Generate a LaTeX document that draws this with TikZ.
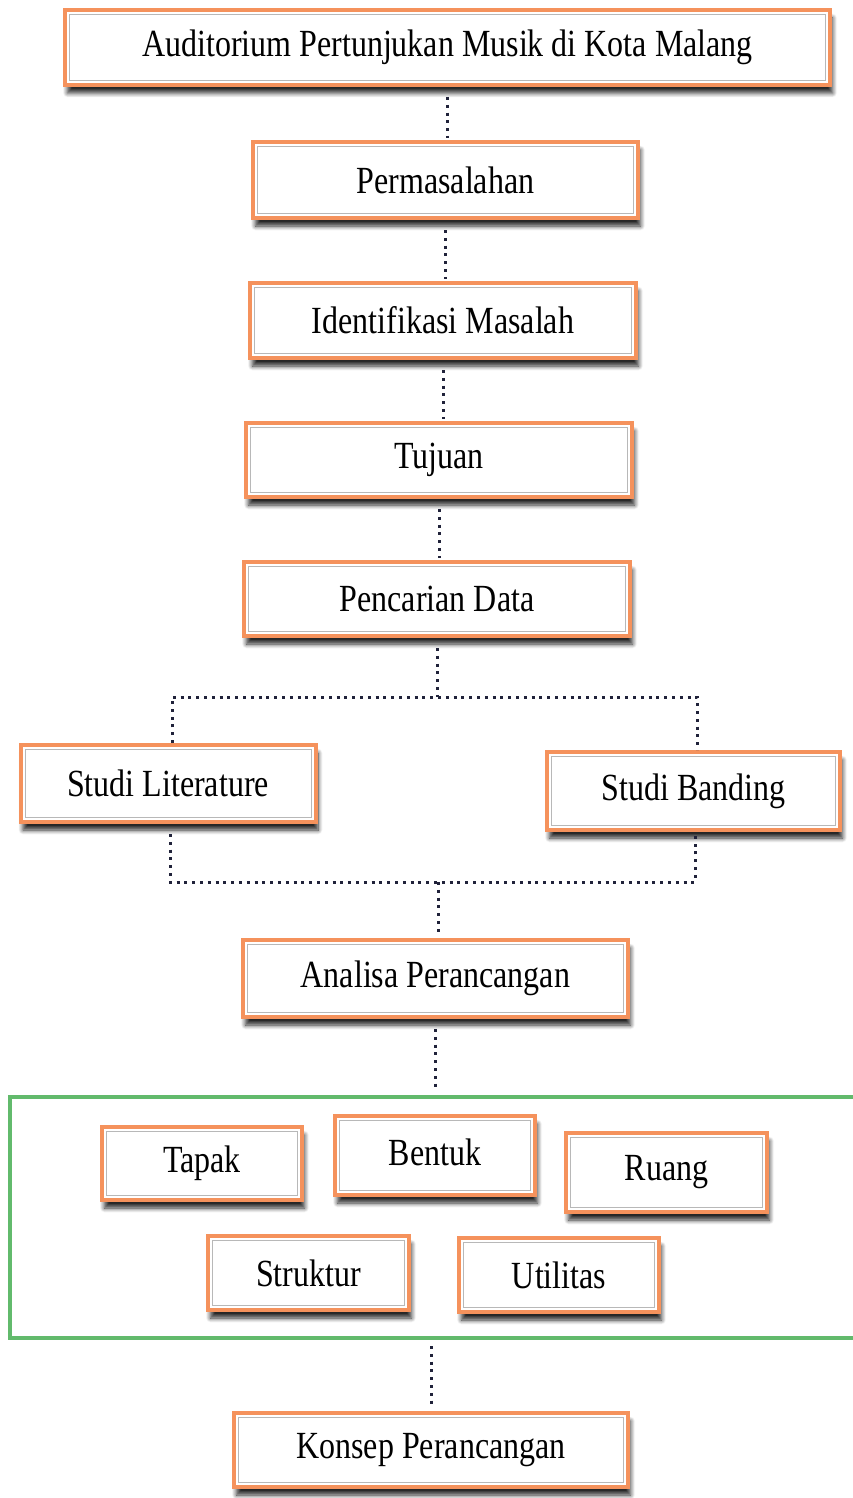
\documentclass[tikz,border=0pt]{standalone}
\usepackage{fontspec}
\setmainfont{Liberation Serif}
\usetikzlibrary{shadows.blur}
\definecolor{boxorange}{RGB}{245,146,92}
\definecolor{framegreen}{RGB}{98,186,108}
\definecolor{dotink}{RGB}{32,34,58}
\newcommand{\tallbox}[1]{\scalebox{1}[1.2]{#1}}
\tikzset{
  box/.style={draw=boxorange, line width=4pt, fill=white, inner sep=0pt,
    font=\fontsize{32}{38}\selectfont,
    blur shadow={shadow xshift=2.5pt, shadow yshift=-8pt, shadow blur steps=8,
      shadow blur radius=4.5pt, shadow opacity=85},
    path picture={\draw[black!28, line width=1pt]
      ([shift={(4.5pt,-4.5pt)}]path picture bounding box.north west) rectangle
      ([shift={(-4.5pt,4.5pt)}]path picture bounding box.south east);}},
  conn/.style={draw=dotink, line width=3pt, dash pattern=on 3pt off 4.8pt},
  group/.style={draw=framegreen, line width=4pt, fill=none, inner sep=0pt}
}
\begin{document}
\begin{tikzpicture}[x=1pt,y=-1pt]
\useasboundingbox (0,0) rectangle (852,1498);

% green frame around the design aspects
\node[group, minimum width=860pt, minimum height=241pt] (grp) at (440,1217.5) {};

% main chain
\node[box, minimum width=765pt, minimum height=75pt] (aud) at (447.5,47.5) {\tallbox{Auditorium Pertunjukan Musik di Kota Malang}};
\node[box, minimum width=385pt, minimum height=76pt] (perm) at (445.5,180) {\tallbox{Permasalahan}};
\node[box, minimum width=386pt, minimum height=75pt] (ident) at (443,320.5) {\tallbox{Identifikasi Masalah}};
\node[box, minimum width=386pt, minimum height=74pt] (tuj) at (439,460) {\tallbox{Tujuan}};
\node[box, minimum width=386pt, minimum height=74pt] (pen) at (437,599) {\tallbox{Pencarian Data}};
\node[box, minimum width=295pt, minimum height=77pt] (lit) at (168,783.5) {\tallbox{Studi Literature}};
\node[box, minimum width=293pt, minimum height=78pt] (band) at (693.5,791) {\tallbox{Studi Banding}};
\node[box, minimum width=385pt, minimum height=77pt] (ana) at (435.5,978.5) {\tallbox{Analisa Perancangan}};

% design aspects
\node[box, minimum width=200pt, minimum height=73pt] (tapak) at (202,1163.5) {\tallbox{Tapak}};
\node[box, minimum width=200pt, minimum height=79pt] (bentuk) at (435,1155.5) {\raisebox{6pt}{\tallbox{Bentuk}}};
\node[box, minimum width=201pt, minimum height=79pt] (ruang) at (666.5,1172.5) {\tallbox{Ruang}};
\node[box, minimum width=201pt, minimum height=74pt] (strk) at (308.5,1273) {\tallbox{Struktur}};
\node[box, minimum width=200pt, minimum height=74pt] (util) at (559,1275) {\tallbox{Utilitas}};

\node[box, minimum width=394pt, minimum height=74pt] (kons) at (431,1450) {\tallbox{Konsep Perancangan}};

% branch points
\coordinate (bl) at (172,697);
\coordinate (br) at (697,697);
\coordinate (jl) at (170,882);
\coordinate (jr) at (695,882);
\coordinate (jm) at (438,882);

% dotted connectors
\draw[conn, shorten <=10pt, shorten >=2pt] (aud.south) -- (aud.south |- perm.north);
\draw[conn, shorten <=10pt, shorten >=2pt] (perm.south) -- (perm.south |- ident.north);
\draw[conn, shorten <=10pt, shorten >=2pt] (ident.south) -- (ident.south |- tuj.north);
\draw[conn, shorten <=10pt, shorten >=2pt] (tuj.south) -- (tuj.south |- pen.north);
\draw[conn, shorten <=10pt] (pen.south) -- (pen.south |- bl);
\draw[conn] (lit.north -| bl) -- (bl) -- (br) -- (band.north -| br);
\draw[conn, shorten <=10pt] (lit.south -| jl) -- (jl) -- (jr) -- (band.south -| jr);
\draw[conn, shorten >=2pt] (jm) -- (ana.north -| jm);
\draw[conn, shorten <=10pt, shorten >=6pt] (ana.south) -- (ana.south |- grp.north);
\draw[conn, shorten <=6pt, shorten >=6pt] (grp.south -| kons.north) -- (kons.north);
\end{tikzpicture}
\end{document}
